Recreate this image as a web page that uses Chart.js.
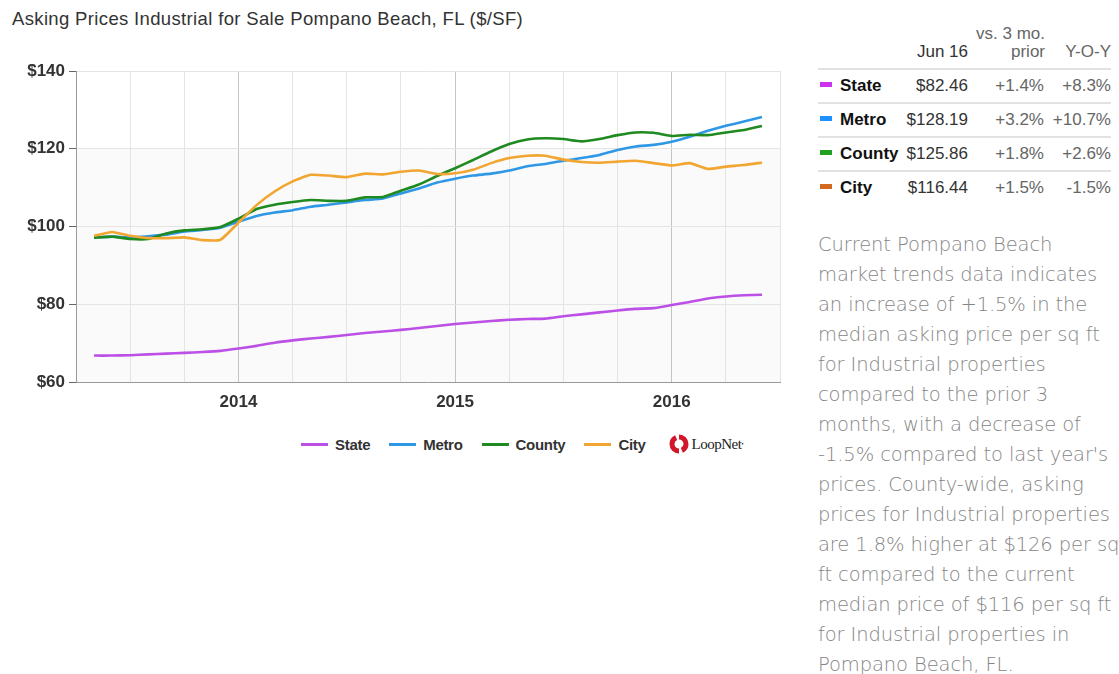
<!DOCTYPE html>
<html>
<head>
<meta charset="utf-8">
<script src="https://cdn.jsdelivr.net/npm/chart.js@4.4.0/dist/chart.umd.min.js"></script>
<style>
body{margin:0;background:#fff;font-family:Arial,"Liberation Sans",sans-serif;}
#title{position:absolute;left:12px;top:8px;font-size:18.5px;letter-spacing:0.35px;color:#333;white-space:nowrap;}
#wrap{position:absolute;left:0;top:0;width:800px;height:422px;}
#legend{position:absolute;left:301px;top:434px;height:20px;display:flex;align-items:center;font-family:Arial,"Liberation Sans",sans-serif;font-weight:bold;font-size:15px;letter-spacing:-0.3px;color:#333;}
#legend .item{display:flex;align-items:center;margin-right:19px;}
#legend .sw{width:27px;height:3px;margin-right:7px;}
#logo{display:flex;align-items:center;margin-left:4px;font-family:"Liberation Serif",serif;font-weight:normal;font-size:15px;letter-spacing:-0.5px;color:#222;}
#table{position:absolute;left:818px;top:0;width:293px;font-size:17px;color:#333;}
#table .h{position:absolute;white-space:nowrap;color:#666;}
#table .row{position:absolute;left:0;width:293px;height:32px;border-top:2px solid #e2e2e2;}
#table .row span{position:absolute;top:6px;white-space:nowrap;}
#table .sw{left:2px;top:12px !important;width:12px;height:5px;}
#table .lab{left:22px;font-weight:bold;color:#111;}
#table .val{right:143px;}
#table .p1{right:67px;color:#666;}
#table .p2{right:0;color:#666;}
#text{position:absolute;left:818px;top:230px;font-family:"DejaVu Sans ExtraLight","DejaVu Sans",sans-serif;font-weight:200;font-size:19.5px;letter-spacing:-0.1px;line-height:30px;color:#858585;white-space:nowrap;}
</style>
</head>
<body>
<div id="title">Asking Prices Industrial for Sale Pompano Beach, FL ($/SF)</div>
<div id="wrap"><canvas id="mycanvas"></canvas></div>
<div id="legend"></div>
<div id="table"></div>
<div id="text">Current Pompano Beach<br>market trends data indicates<br>an increase of +1.5% in the<br>median asking price per sq ft<br>for Industrial properties<br>compared to the prior 3<br>months, with a decrease of<br>-1.5% compared to last year's<br>prices. County-wide, asking<br>prices for Industrial properties<br>are 1.8% higher at $126 per sq<br>ft compared to the current<br>median price of $116 per sq ft<br>for Industrial properties in<br>Pompano Beach, FL.</div>
<script>
// axis months, Apr 2013 .. Jul 2016 (data runs May 2013 .. Jun 2016)
var axisMonths=[];
for(var y=2013;y<=2016;y++){
	for(var m=1;m<=12;m++){
		if(y==2013&&m<4) continue;
		if(y==2016&&m>7) continue;
		axisMonths.push(y+"-"+(m<10?"0"+m:m));
	}
}
var dataMonths=axisMonths.slice(1,39);

var names=["State","Metro","County","City"];
var lineColors=["#bb4fe6","#2f98e6","#1f8a1f","#f2a531"];
var swatchColors=["#cc33ee","#1e90ff","#22a022","#d2691e"];

var state=[66.8,66.8,66.9,67.1,67.3,67.5,67.7,68.0,68.6,69.3,70.1,70.7,71.2,71.6,72.1,72.6,73.0,73.4,73.9,74.4,74.9,75.3,75.7,76.0,76.2,76.3,76.9,77.4,77.9,78.4,78.8,79.0,79.8,80.6,81.5,82.0,82.3,82.46];
var metro=[97.2,97.4,97.2,97.5,97.9,98.7,99.1,99.7,101.2,102.7,103.6,104.2,105.1,105.6,106.2,106.8,107.2,108.5,109.8,111.3,112.3,113.1,113.6,114.4,115.5,116.1,116.9,117.6,118.4,119.7,120.6,121.0,121.8,123.1,124.6,125.9,127.0,128.19];
var county=[97.1,97.4,96.8,96.8,98.2,99.0,99.3,99.9,102.0,104.5,105.6,106.3,106.8,106.6,106.6,107.5,107.6,109.2,110.8,113.0,115.0,117.1,119.3,121.2,122.4,122.7,122.5,121.9,122.5,123.5,124.2,124.1,123.3,123.6,123.5,124.2,124.8,125.86];
var city=[97.6,98.6,97.6,97.0,97.0,97.2,96.5,96.6,101.0,105.5,109.0,111.6,113.3,113.1,112.7,113.6,113.4,114.1,114.4,113.5,113.7,114.6,116.3,117.6,118.2,118.2,117.2,116.6,116.4,116.7,116.9,116.3,115.7,116.3,114.8,115.4,115.8,116.44];
var series=[state,metro,county,city];

var yTicks=[60,80,100,120,140];

// table
var current=["$82.46","$128.19","$125.86","$116.44"];
var vs3mo=["+1.4%","+3.2%","+1.8%","+1.5%"];
var yoy=["+8.3%","+10.7%","+2.6%","-1.5%"];

var datasets=[];
for(var i=0;i<series.length;i++){
	datasets.push({
		label:names[i],
		data:series[i].map(function(v,j){return {x:dataMonths[j],y:v};}),
		borderColor:lineColors[i],
		backgroundColor:lineColors[i],
		borderWidth:2.6,
		pointRadius:0,
		tension:0.15,
		order:3-i
	});
}

var bandPlugin={
	id:"band",
	beforeDraw:function(chart){
		var a=chart.chartArea,ys=chart.scales.y,c=chart.ctx;
		var top=ys.getPixelForValue(120),bot=ys.getPixelForValue(60);
		c.save();
		c.fillStyle="#fafafa";
		c.fillRect(a.left,top,a.right-a.left,bot-top);
		c.restore();
	}
};

function gridColor(ctx){
	var lab=axisMonths[ctx.index];
	if(!lab) return "rgba(0,0,0,0)";
	var mm=lab.slice(5);
	if(mm=="01") return "#c4c4c4";
	if(mm=="04"||mm=="07"||mm=="10") return "#e4e4e4";
	return "rgba(0,0,0,0)";
}

var ctx=document.getElementById("mycanvas");
var lineGraph=new Chart(ctx,{
	type:"line",
	data:{labels:axisMonths,datasets:datasets},
	plugins:[bandPlugin],
	options:{
		responsive:true,
		maintainAspectRatio:false,
		animation:false,
		layout:{padding:{top:71,right:20,left:0,bottom:0}},
		plugins:{legend:{display:false},tooltip:{enabled:false}},
		scales:{
			x:{
				type:"category",
				offset:false,
				afterFit:function(s){s.height=40;},
				border:{color:"#999",width:1},
				grid:{color:gridColor,drawTicks:false,lineWidth:1},
				ticks:{
					autoSkip:false,maxRotation:0,padding:10,
					color:"#333",font:{family:"Arial, Liberation Sans",size:17,weight:"bold"},
					callback:function(v,i){var l=axisMonths[i];return l.slice(5)=="01"?l.slice(0,4):"";}
				}
			},
			y:{
				min:60,max:140,
				afterFit:function(s){s.width=76;},
				afterBuildTicks:function(s){s.ticks=yTicks.map(function(v){return {value:v};});},
				border:{color:"#999",width:1},
				grid:{color:"#e4e4e4",tickColor:"#666",tickLength:7,drawTicks:true},
				ticks:{
					padding:4,color:"#333",font:{family:"Arial, Liberation Sans",size:17,weight:"bold"},
					callback:function(v){return "$"+v;}
				}
			}
		}
	}
});

// legend
var lg=document.getElementById("legend");
for(var i=0;i<names.length;i++){
	var it=document.createElement("div");
	it.className="item";
	it.innerHTML='<div class="sw" style="background:'+lineColors[i]+'"></div>'+names[i];
	lg.appendChild(it);
}
var logo=document.createElement("div");
logo.id="logo";
logo.innerHTML='<svg width="20" height="20" viewBox="0 0 20 20" style="margin-right:3px"><g fill="none" stroke="#d0182a" stroke-width="5"><path d="M10 3 A7 7 0 0 1 17 10"/><path d="M17 10 A7 7 0 0 1 10 17" stroke-dasharray="8 4"/><path d="M10 17 A7 7 0 0 1 3 10"/><path d="M3 10 A7 7 0 0 1 10 3" stroke-dasharray="8 4"/></g></svg>LoopNet<sup style="font-size:7px">•</sup>';
lg.appendChild(logo);

// table
var tb=document.getElementById("table");
tb.innerHTML='<div class="h" style="right:66px;top:24px">vs. 3 mo.</div>'+
	'<div class="h" style="right:143px;top:42px;color:#333">Jun 16</div>'+
	'<div class="h" style="right:66px;top:42px">prior</div>'+
	'<div class="h" style="right:0;top:42px">Y-O-Y</div>';
for(var i=0;i<names.length;i++){
	var r=document.createElement("div");
	r.className="row";
	r.style.top=(68+i*34)+"px";
	r.innerHTML='<span class="sw" style="background:'+swatchColors[i]+'"></span>'+
		'<span class="lab">'+names[i]+'</span>'+
		'<span class="val">'+current[i]+'</span>'+
		'<span class="p1">'+vs3mo[i]+'</span>'+
		'<span class="p2">'+yoy[i]+'</span>';
	tb.appendChild(r);
}
</script>
</body>
</html>
